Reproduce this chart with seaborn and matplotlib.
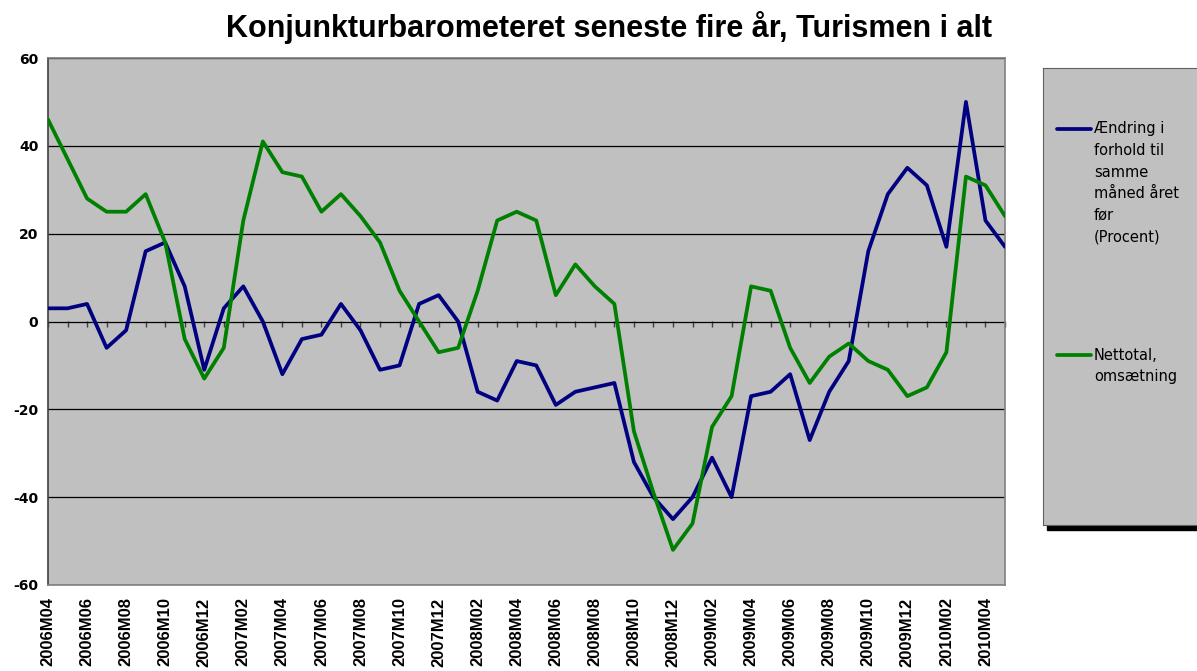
import matplotlib
matplotlib.use("Agg")
import matplotlib.pyplot as plt
from matplotlib import font_manager as fm
from matplotlib.patches import Rectangle
import seaborn as sns
import pandas as pd

# ── data ─────────────────────────────────────────────────────────────────────
months = [f"{p.year}M{p.month:02d}" for p in pd.period_range("2006-04", "2010-05", freq="M")]

aendring = [3, 3, 4, -6, -2, 16, 18, 8, -11,
            3, 8, 0, -12, -4, -3, 4, -2, -11, -10, 4, 6,
            0, -16, -18, -9, -10, -19, -16, -15, -14, -32, -40, -45,
            -40, -31, -40, -17, -16, -12, -27, -16, -9, 16, 29, 35,
            31, 17, 50, 23, 17]
nettotal = [46, 37, 28, 25, 25, 29, 18, -4, -13,
            -6, 23, 41, 34, 33, 25, 29, 24, 18, 7, 0, -7,
            -6, 7, 23, 25, 23, 6, 13, 8, 4, -25, -39, -52,
            -46, -24, -17, 8, 7, -6, -14, -8, -5, -9, -11, -17,
            -15, -7, 33, 31, 24]

series_names = ["Ændring i\nforhold til\nsamme\nmåned året\nfør\n(Procent)",
                "Nettotal,\nomsætning"]
series_colors = ["#000080", "#008000"]
y_ticks = [-60, -40, -20, 0, 20, 40, 60]
title = "Konjunkturbarometeret seneste fire år, Turismen i alt"

df = pd.DataFrame({
    "pos": list(range(len(months))) * 2,
    "value": aendring + nettotal,
    "serie": [series_names[0]] * len(months) + [series_names[1]] * len(months),
})


# an Arial-like bold face: Liberation Sans Bold if present, else the next best
def bold_face(names):
    for name in names:
        for f in fm.fontManager.ttflist:
            if f.name == name and f.weight in (700, "bold") and f.style == "normal":
                return fm.FontProperties(fname=f.fname)
    return fm.FontProperties(family="DejaVu Sans", weight="bold")


arial_bold = bold_face(["Liberation Sans", "Arimo", "Roboto", "Noto Sans"])

# ── figure ───────────────────────────────────────────────────────────────────
sns.set_style("white")
plt.rcParams.update({
    "axes.unicode_minus": False,
    "text.color": "black",
    "xtick.color": "black",
    "ytick.color": "black",
})

W, H = 1197, 671
fig = plt.figure(figsize=(W / 100, H / 100), dpi=100)
fig.patch.set_facecolor("white")


def fx(x):
    return x / W


def fy(y):
    return 1 - y / H


ax = fig.add_axes([fx(48), fy(585), (1005 - 48) / W, (585 - 58) / H])
ax.set_facecolor("#C0C0C0")

sns.lineplot(data=df, x="pos", y="value", hue="serie",
             palette=dict(zip(series_names, series_colors)),
             linewidth=2.7, legend=False, ax=ax, zorder=3)

ax.set_xlim(0, len(months) - 1)
ax.set_ylim(-60, 60)
ax.set_xlabel("")
ax.set_ylabel("")

ax.set_yticks(y_ticks)
ax.set_yticklabels([str(v) for v in y_ticks], fontsize=10,
                   fontweight="bold", family="DejaVu Sans")
ax.tick_params(axis="y", direction="out", length=5, width=1, color="#404040", pad=2)
ax.yaxis.grid(True, color="black", linewidth=0.9)
ax.set_axisbelow(True)

ax.set_xticks(range(0, len(months), 2))
ax.set_xticklabels(months[::2], rotation=90)
for lab in ax.get_xticklabels():
    lab.set_fontproperties(arial_bold)
    lab.set_fontsize(12)
ax.tick_params(axis="x", length=0, pad=9)

for sp in ax.spines.values():
    sp.set_color("#808080")
    sp.set_linewidth(1.2)
ax.spines["left"].set_color("#404040")

# category axis through zero with small tick marks
sec = ax.secondary_xaxis(0.5)
sec.set_xticks(range(len(months)))
sec.xaxis.set_ticks_position("bottom")
sec.tick_params(axis="x", direction="out", length=4, width=1, color="#404040",
                labelbottom=False, labeltop=False)
sec.spines["bottom"].set_color("black")
sec.spines["top"].set_visible(False)

# ── title ────────────────────────────────────────────────────────────────────
t = fig.text(fx(609), fy(37), title, ha="center", va="baseline",
             fontproperties=arial_bold, color="black")
t.set_fontsize(22)

# ── legend box (drawn by hand to mimic the spreadsheet legend) ───────────────
fig.add_artist(Rectangle((fx(1047), fy(530)), 0.2, 5 / H,
                         transform=fig.transFigure, color="black", zorder=0))
lax = fig.add_axes([fx(1043), fy(525), (W - 1043 + 10) / W, (525 - 68) / H])
lax.set_facecolor("#C0C0C0")
lax.set_xticks([])
lax.set_yticks([])
for sp in lax.spines.values():
    sp.set_color("#606060")

for name, color, y0 in zip(series_names, series_colors, [129, 355]):
    lax.plot([fx(1057), fx(1091)], [fy(y0), fy(y0)], color=color,
             linewidth=2.7, transform=fig.transFigure, clip_on=False)
    for k, line in enumerate(name.split("\n")):
        fig.text(fx(1094), fy(y0 + 21.6 * k), line, ha="left", va="center",
                 fontsize=10.5, family="DejaVu Sans", color="black")

fig.savefig("out.png", dpi=100)
plt.close(fig)
